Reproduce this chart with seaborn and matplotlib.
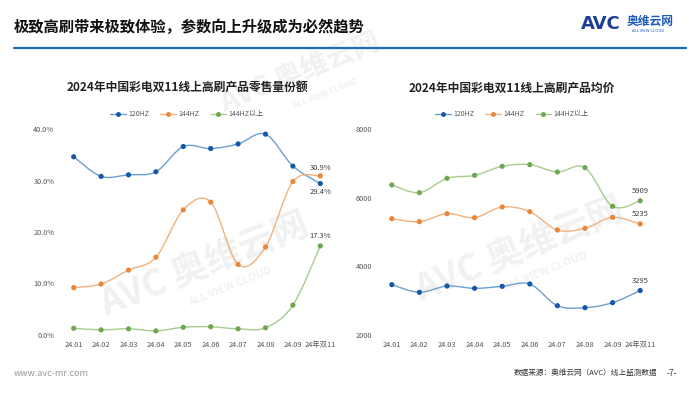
import numpy as np
import pandas as pd
import seaborn as sns
import matplotlib.pyplot as plt
from matplotlib.path import Path
from matplotlib.patches import PathPatch
from matplotlib.lines import Line2D

months = ["24.01", "24.02", "24.03", "24.04", "24.05", "24.06", "24.07", "24.08", "24.09", "24年双11"]
series_names = ["120HZ", "144HZ", "144HZ以上"]

share_120 = [34.6, 30.8, 31.1, 31.7, 36.6, 36.2, 37.1, 39.0, 32.8, 29.4]
share_144 = [9.2, 9.9, 12.6, 15.1, 24.3, 25.8, 13.7, 17.1, 29.8, 30.9]
share_144_up = [1.3, 1.0, 1.2, 0.8, 1.5, 1.6, 1.2, 1.4, 5.8, 17.3]

price_120 = [3466, 3243, 3427, 3359, 3417, 3485, 2854, 2796, 2942, 3295]
price_144 = [5388, 5301, 5534, 5417, 5728, 5592, 5058, 5107, 5427, 5235]
price_144_up = [6369, 6146, 6563, 6650, 6913, 6961, 6748, 6874, 5748, 5909]

marker_colors = ["#1558A8", "#E8863A", "#6BA84F"]
line_colors = ["#6C9FCF", "#F0B27E", "#A9CB8F"]

sns.set_theme(style="white")
plt.rcParams['font.family'] = ['Noto Sans CJK SC', 'DejaVu Sans']

fig = plt.figure(figsize=(7, 3.94), dpi=100)


def px_axes(x0, y0, x1, y1):
    # pixel box (from top-left) -> figure axes
    return fig.add_axes([x0 / 700, 1 - y1 / 394, (x1 - x0) / 700, (y1 - y0) / 394])


def smooth_path(ax, ys, color):
    # catmull-rom style bezier segments through the points
    xs = np.arange(len(ys), dtype=float)
    ys = np.asarray(ys, dtype=float)
    verts = [(xs[0], ys[0])]
    codes = [Path.MOVETO]
    n = len(ys)
    for i in range(n - 1):
        p0 = max(i - 1, 0)
        p3 = min(i + 2, n - 1)
        c1 = (xs[i] + (xs[i + 1] - xs[p0]) / 6, ys[i] + (ys[i + 1] - ys[p0]) / 6)
        c2 = (xs[i + 1] - (xs[p3] - xs[i]) / 6, ys[i + 1] - (ys[p3] - ys[i]) / 6)
        verts += [c1, c2, (xs[i + 1], ys[i + 1])]
        codes += [Path.CURVE4] * 3
    ax.add_patch(PathPatch(Path(verts, codes), facecolor="none", edgecolor=color, lw=1.0, zorder=2))


def draw_chart(ax, data, ylim, yticks, fmt, title, title_x, labels):
    df = pd.DataFrame(data, index=series_names).T
    df["x"] = np.arange(len(months))
    for i, name in enumerate(series_names):
        smooth_path(ax, df[name], line_colors[i])
        sns.scatterplot(ax=ax, data=df, x="x", y=name, color=marker_colors[i], s=14,
                        edgecolor="none", zorder=3, clip_on=False)
    ax.set_xlim(-0.5, len(months) - 0.5)
    ax.set_ylim(*ylim)
    ax.set_yticks(yticks)
    ax.set_yticklabels([fmt(v) for v in yticks])
    ax.set_xticks(range(len(months)))
    ax.set_xticklabels(months)
    ax.tick_params(axis="both", labelsize=5.3, colors="#555555", length=0, pad=4)
    ax.set_xlabel("")
    ax.set_ylabel("")
    for s in ax.spines.values():
        s.set_visible(False)
    ax.axhline(ylim[0], color="#D9D9D9", lw=0.8, zorder=1)
    ax.patch.set_alpha(0)
    ax.set_zorder(3)
    for (xi, yi, txt, dy) in labels:
        ax.annotate(txt, (xi, yi), xytext=(0, dy), textcoords="offset points",
                    ha="center", va="center", fontsize=5.5, color="#404040")
    fig.text(title_x / 700, 1 - 88 / 394, title, ha="center", va="center",
             fontsize=8.5, fontweight="bold", color="#222222", zorder=3)
    handles = [Line2D([0], [0], color=line_colors[i], lw=1.0, marker="o", markersize=2.5,
                      markerfacecolor=marker_colors[i], markeredgecolor=marker_colors[i])
               for i in range(3)]
    leg = fig.legend(handles, series_names, loc="center", bbox_to_anchor=(title_x / 700, 1 - 114 / 394),
                     ncol=3, frameon=False, fontsize=5, handlelength=2.2, columnspacing=1.6,
                     handletextpad=0.4, labelcolor="#555555")
    leg.set_zorder(3)


# faint watermarks behind the charts
for (wx, wy, fs) in [(205, 265, 26), (520, 250, 26), (300, 72, 20)]:
    fig.text(wx / 700, 1 - wy / 394, "AVC 奥维云网", fontsize=fs, fontweight="bold",
             color="#F1F1F1", rotation=22, ha="center", va="center", zorder=0)
    fig.text((wx + 25) / 700, 1 - (wy + 22) / 394, "ALL VIEW CLOUD", fontsize=fs * 0.3,
             fontweight="bold", color="#F1F1F1", rotation=22, ha="center", va="center", zorder=0)

ax1 = px_axes(60, 129, 334, 335)
draw_chart(ax1, [share_120, share_144, share_144_up], (0, 40), [0, 10, 20, 30, 40],
           lambda v: f"{v:.1f}%", "2024年中国彩电双11线上高刷产品零售量份额", 187,
           [(9, share_144[-1], "30.9%", 6), (9, share_120[-1], "29.4%", -6),
            (9, share_144_up[-1], "17.3%", 7)])

ax2 = px_axes(378, 129, 654, 335)
draw_chart(ax2, [price_120, price_144, price_144_up], (2000, 8000), [2000, 4000, 6000, 8000],
           lambda v: f"{v:.0f}", "2024年中国彩电双11线上高刷产品均价", 512,
           [(9, price_144_up[-1], "5909", 7), (9, price_144[-1], "5235", 7),
            (9, price_120[-1], "3295", 7)])

# header
fig.text(14 / 700, 1 - 27 / 394, "极致高刷带来极致体验，参数向上升级成为必然趋势",
         fontsize=11, fontweight="bold", color="#111111", va="center", zorder=3)
fig.add_artist(Line2D([14 / 700, 686 / 700], [1 - 47.5 / 394] * 2, color="#1F6DB4", lw=1.6))
fig.text(581 / 700, 1 - 24 / 394, "AVC", fontsize=13, fontweight="heavy", color="#1C3F94",
         va="center", family="DejaVu Sans")
fig.text(627 / 700, 1 - 21 / 394, "奥维云网", fontsize=8.5, fontweight="bold", color="#1E5BB8",
         va="center")
fig.text(632 / 700, 1 - 31 / 394, "ALL VIEW CLOUD", fontsize=3, color="#1E5BB8", va="center")

# footer
fig.text(14 / 700, 1 - 373 / 394, "www.avc-mr.com", fontsize=6.5, color="#9A9A9A", va="center")
fig.text(657 / 700, 1 - 373 / 394, "数据来源：奥维云网（AVC）线上监测数据", fontsize=5.5,
         color="#333333", va="center", ha="right")
fig.text(667 / 700, 1 - 373 / 394, "-7-", fontsize=6, color="#333333", va="center")

fig.savefig("out.png", dpi=100)
